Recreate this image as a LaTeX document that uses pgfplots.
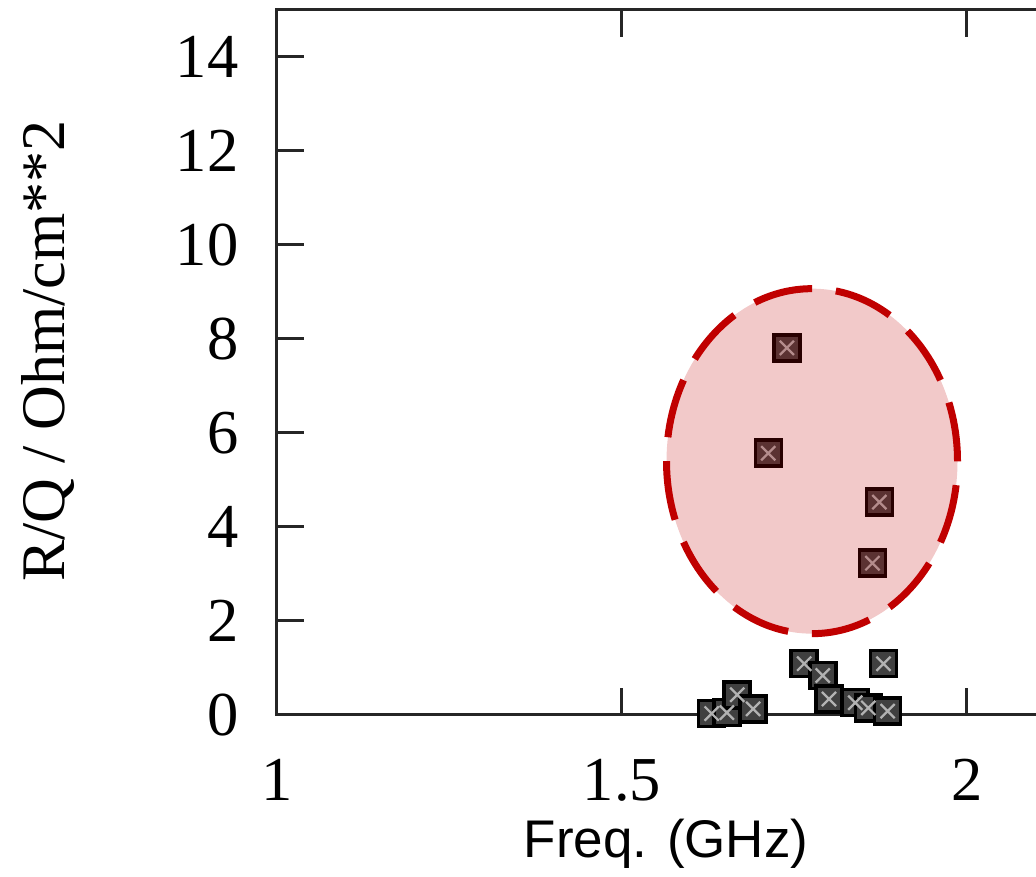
\documentclass[border=0pt]{standalone}
\usepackage{fontspec}
\setmainfont{Liberation Serif}
\newfontfamily\arialfont{Liberation Sans}
\usepackage{pgfplots}
\pgfplotsset{compat=1.18}
\definecolor{ellred}{RGB}{192,0,0}

\pgfplotstableread{
x y
1.630 0.03
1.652 0.05
1.667 0.43
1.690 0.13
1.764 1.09
1.791 0.84
1.800 0.34
1.838 0.26
1.857 0.15
1.885 0.08
1.879 1.09
1.739 7.81
1.712 5.57
1.873 4.53
1.863 3.23
}\datatab

\begin{document}
\begin{tikzpicture}
\begin{axis}[
  scale only axis,
  width=158.7pt,
  height=141pt,
  xmin=1, xmax=2.15, ymin=0, ymax=15,
  xtick={1,1.5,2}, ytick={0,2,...,14},
  xticklabels={1,1.5,2},
  tick align=inside, major tick length=5.4pt,
  axis line style={line width=0.6pt, black!85},
  every tick/.style={line width=0.6pt, black!85},
  /pgf/number format/assume math mode=true,
  tick label style={font=\fontsize{12.5}{14}\selectfont, inner sep=0pt},
  xticklabel style={anchor=north, yshift=-8.7pt},
  yticklabel style={anchor=east, xshift=-7.5pt},
  xlabel={Freq. (GHz)},
  xlabel style={font=\arialfont\fontsize{10.6}{12}\selectfont, at={([yshift=-28.6pt]axis description cs:0.4904,0)}, anchor=base, inner sep=0pt},
  ylabel={R/Q / Ohm/cm**2},
  ylabel style={font=\fontsize{12.4}{14}\selectfont, at={([xshift=-42.4pt]axis description cs:0,0.516)}, anchor=base, inner sep=0pt},
  clip=false,
]
\addplot[only marks, mark=square*, mark size=2.6pt, mark options={draw=black, fill=black!75, line width=0.7pt}] table {\datatab};
\addplot[only marks, mark=x, mark size=2.0pt, mark options={black!30, line width=0.45pt}] table {\datatab};
\coordinate (O) at (axis cs:1,0);
\coordinate (E) at (axis cs:1.7754,5.40);
\end{axis}
\draw[ellred, line width=1.4pt, fill=ellred, fill opacity=0.21, dash pattern=on 11.9pt off 4.78pt] (E) ellipse [x radius=29.1pt, y radius=34.5pt];
\pgfresetboundingbox
\path[use as bounding box] ([shift={(-55.4pt,-32.4pt)}]O) rectangle ([shift={(151.8pt,143pt)}]O);
\end{tikzpicture}
\end{document}
